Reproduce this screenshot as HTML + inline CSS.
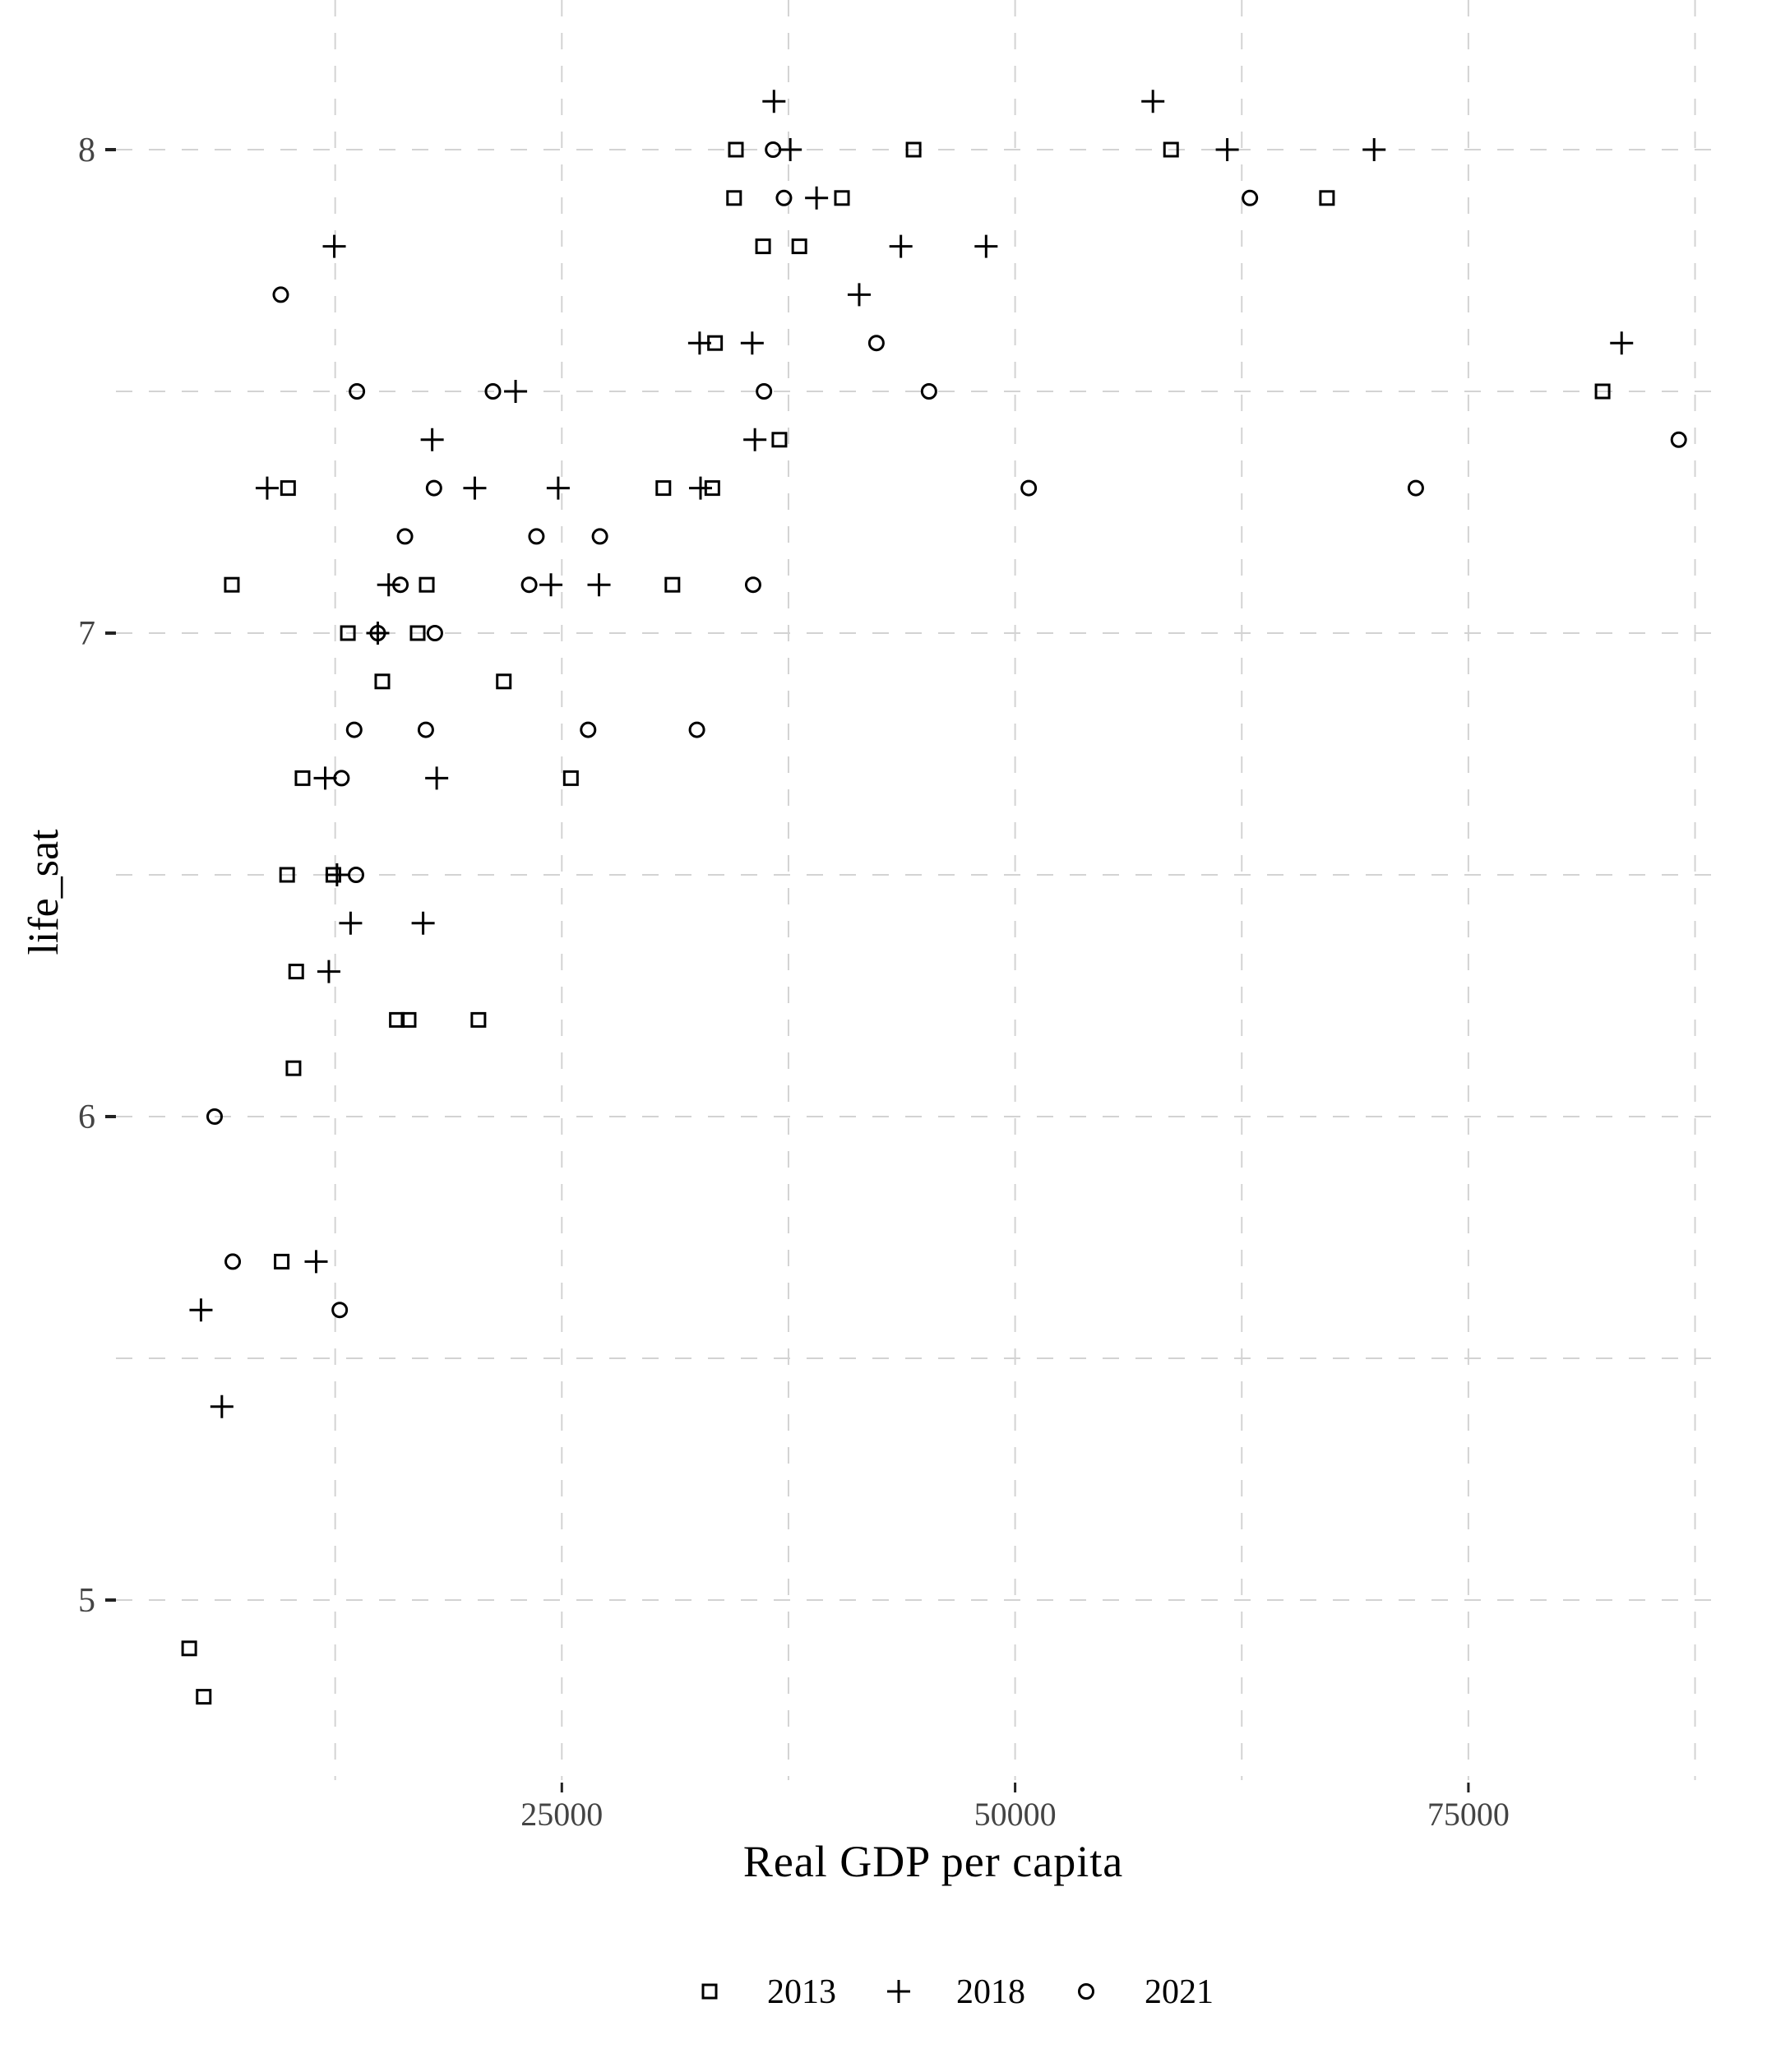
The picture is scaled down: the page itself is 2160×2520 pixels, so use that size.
<!DOCTYPE html>
<html><head><meta charset="utf-8"><style>
html,body{margin:0;padding:0;background:#fff;}
svg{display:block;font-family:"Liberation Serif",serif;}
</style></head><body>
<svg id="chart" width="2160" height="2520" viewBox="0 0 2160 2520" xmlns="http://www.w3.org/2000/svg">
<g id="grid"></g>
<g id="axes"></g>
<g id="points"></g>
<text x="1135" y="2282" font-size="54" text-anchor="middle" fill="#000" letter-spacing="1">Real GDP per capita</text>
<text transform="translate(70,1085) rotate(-90)" font-size="52" text-anchor="middle" fill="#000">life_sat</text>
<g>
  <rect x="855" y="2414" width="16" height="16" fill="none" stroke="#000" stroke-width="3"/>
  <text x="975" y="2436" font-size="42" text-anchor="middle">2013</text>
  <path d="M1079 2422h28M1093 2408v28" stroke="#000" stroke-width="3"/>
  <text x="1205" y="2436" font-size="42" text-anchor="middle">2018</text>
  <circle cx="1321" cy="2422" r="8.5" fill="none" stroke="#000" stroke-width="3"/>
  <text x="1434" y="2436" font-size="42" text-anchor="middle">2021</text>
</g>
</svg>
<script>
const xTicks = [25000, 50000, 75000];
const xMinor = [12500, 37500, 62500, 87500];
const yTicks = [5, 6, 7, 8];
const yMinor = [5.5, 6.5, 7.5];
const gdp2013 = [34600,44400,58600,34500,40450,67200,36100,38100,33450,82400,37000,9900,30600,33300,6800,17550,31100,13200,17050,15100,21800,10700,25500,9850,12400,10350,15900,16550,20400,10200,9550,4450,5250];
const sat2013 = [8,8,8,7.9,7.9,7.9,7.8,7.8,7.6,7.5,7.4,7.3,7.3,7.3,7.1,7.1,7.1,7,7,6.9,6.9,6.7,6.7,6.5,6.5,6.3,6.2,6.2,6.2,6.1,5.7,4.9,4.8];
const gdp2018 = [36700,57600,37600,61700,69800,39050,12450,43700,48400,41400,32600,35500,83450,22450,17850,35650,8750,20200,24800,32650,15450,24400,27050,14850,11950,18100,12600,13350,17350,12150,11450,5100,6250];
const sat2018 = [8.1,8.1,8,8,8,7.9,7.8,7.8,7.8,7.7,7.6,7.6,7.6,7.5,7.4,7.4,7.3,7.3,7.3,7.3,7.1,7.1,7.1,7,6.7,6.7,6.5,6.4,6.4,6.3,5.7,5.6,5.4];
const gdp2021 = [36650,37250,62950,9500,42350,13700,21200,36150,45250,86600,17950,50750,72100,16350,23600,27100,16100,23200,35550,14850,18000,13550,17500,26450,32450,12850,13650,5850,6850,12750];
const sat2021 = [8,7.9,7.9,7.7,7.6,7.5,7.5,7.5,7.5,7.4,7.3,7.3,7.3,7.2,7.2,7.2,7.1,7.1,7.1,7,7,6.8,6.8,6.8,6.8,6.7,6.5,6,5.7,5.6];

const NS = "http://www.w3.org/2000/svg";
const L = 141, R = 2083, T = 0, B = 2165;
function xs(v){ return 132 + v * 551.3 / 25000; }
function ys(v){ return 182 + (8 - v) * 588; }
function mk(tag, attrs, parent){
  const e = document.createElementNS(NS, tag);
  for (const k in attrs) e.setAttribute(k, attrs[k]);
  parent.appendChild(e);
  return e;
}
const grid = document.getElementById('grid');
const axes = document.getElementById('axes');
const pts = document.getElementById('points');
const gstyle = {stroke:'#d3d3d3','stroke-width':2,'stroke-dasharray':'20,20',fill:'none'};
xTicks.concat(xMinor).forEach(v => {
  const l = mk('line', Object.assign({x1:xs(v),x2:xs(v),y1:T,y2:B}, gstyle), grid);
  
  
});
yTicks.concat(yMinor).forEach(v => {
  const l = mk('line', Object.assign({x1:L,x2:R,y1:ys(v),y2:ys(v)}, gstyle), grid);
  
  
});
xTicks.forEach(v => {
  const t = mk('line', {x1:xs(v),x2:xs(v),y1:2168,y2:2180,stroke:'#222','stroke-width':3}, axes);
  
  
  const lb = mk('text', {x:xs(v),y:2220,'font-size':40,'text-anchor':'middle',fill:'#444'}, axes);
  
  
  lb.textContent = v;
});
yTicks.forEach(v => {
  const t = mk('line', {x1:128,x2:141,y1:ys(v),y2:ys(v),stroke:'#222','stroke-width':4}, axes);
  
  
  const lb = mk('text', {x:116,y:ys(v)+14,'font-size':42,'text-anchor':'end',fill:'#444'}, axes);
  
  
  lb.textContent = v;
});
gdp2013.forEach((g,i) => {
  const cx = xs(g), cy = ys(sat2013[i]);
  const p = mk('rect', {x:cx-8,y:cy-8,width:16,height:16,fill:'none',stroke:'#000','stroke-width':3}, pts);
  
  
});
gdp2018.forEach((g,i) => {
  const cx = xs(g), cy = ys(sat2018[i]);
  const p = mk('path', {d:`M${cx-14} ${cy}h28M${cx} ${cy-14}v28`,stroke:'#000','stroke-width':3,fill:'none'}, pts);
  
  
});
gdp2021.forEach((g,i) => {
  const cx = xs(g), cy = ys(sat2021[i]);
  const p = mk('circle', {cx:cx,cy:cy,r:8.5,fill:'none',stroke:'#000','stroke-width':3}, pts);
  
  
});
</script>
</body></html>
